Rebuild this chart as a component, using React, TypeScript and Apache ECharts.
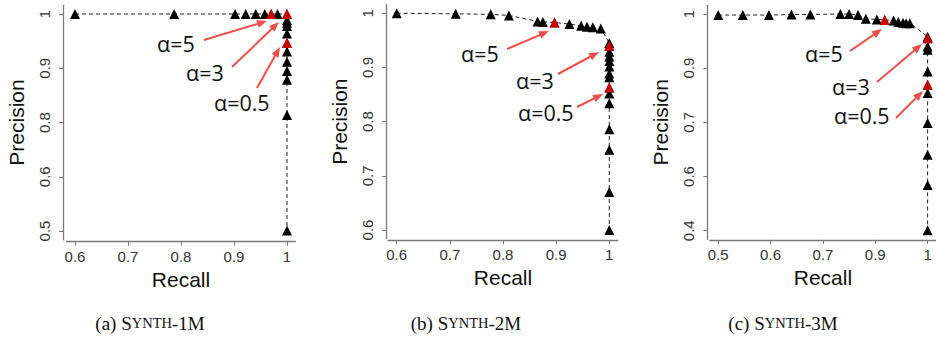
import React, { useEffect, useRef } from "react";
import * as echarts from "echarts";

// ---------- data ----------
// (a) SYNTH-1M
const xTickLabelsA = ["0.6", "0.7", "0.8", "0.9", "1"];
const yTickLabelsA = ["0.5", "0.6", "0.8", "0.9", "1"];
const recallA = [0.6, 0.787, 0.902, 0.922, 0.941, 0.958, 0.97, 0.982, 1, 1, 1, 1, 1, 1, 1, 1, 1, 1, 1, 1];
const precisionA = [1, 1, 1, 1, 1, 1, 1, 1, 1, 0.989, 0.984, 0.978, 0.964, 0.947, 0.931, 0.912, 0.895, 0.879, 0.814, 0.501];
const alphaRecallA = [0.97, 1, 1];
const alphaPrecisionA = [1, 1, 0.947];

// (b) SYNTH-2M
const xTickLabelsB = ["0.6", "0.7", "0.8", "0.9", "1"];
const yTickLabelsB = ["0.6", "0.7", "0.8", "0.9", "1"];
const recallB = [0.6, 0.711, 0.777, 0.811, 0.865, 0.875, 0.897, 0.925, 0.947, 0.958, 0.969, 0.984, 1, 1, 1, 1, 1, 1, 1, 1, 1, 1, 1, 1, 1, 1, 1];
const precisionB = [1, 0.999, 0.998, 0.996, 0.985, 0.984, 0.983, 0.98, 0.977, 0.975, 0.974, 0.972, 0.945, 0.94, 0.929, 0.92, 0.912, 0.902, 0.889, 0.882, 0.863, 0.852, 0.834, 0.786, 0.748, 0.67, 0.6];
const alphaRecallB = [0.897, 1, 1];
const alphaPrecisionB = [0.983, 0.94, 0.863];

// (c) SYNTH-3M
const xTickLabelsC = ["0.5", "0.6", "0.7", "0.9", "1"];
const yTickLabelsC = ["0.4", "0.6", "0.7", "0.9", "1"];
const recallC = [0.5, 0.547, 0.597, 0.64, 0.676, 0.767, 0.8, 0.834, 0.864, 0.903, 0.918, 0.935, 0.944, 0.953, 0.959, 0.966, 1, 1, 1, 1, 1, 1, 1, 1, 1, 1, 1];
const precisionC = [0.998, 0.998, 0.998, 0.999, 0.999, 1, 1, 0.998, 0.991, 0.99, 0.989, 0.988, 0.985, 0.984, 0.983, 0.983, 0.958, 0.955, 0.94, 0.934, 0.888, 0.839, 0.808, 0.699, 0.64, 0.569, 0.402];
const alphaRecallC = [0.918, 1, 1];
const alphaPrecisionC = [0.989, 0.955, 0.839];

const alphaLabels = ["α=5", "α=3", "α=0.5"];
const captionLetters = ["(a)", "(b)", "(c)"];
const captionSizes = ["1M", "2M", "3M"];

// ---------- helpers ----------
// tick labels are evenly spaced on the axis; map values piecewise-linearly
function toPos(v: number, ticks: number[]): number {
  for (let i = 0; i < ticks.length - 1; i++) {
    const a = ticks[i];
    const b = ticks[i + 1];
    if (v <= b || i === ticks.length - 2) return i + (v - a) / (b - a);
  }
  return 0;
}

const panels = [
  { xl: xTickLabelsA, yl: yTickLabelsA, r: recallA, p: precisionA, ar: alphaRecallA, ap: alphaPrecisionA },
  { xl: xTickLabelsB, yl: yTickLabelsB, r: recallB, p: precisionB, ar: alphaRecallB, ap: alphaPrecisionB },
  { xl: xTickLabelsC, yl: yTickLabelsC, r: recallC, p: precisionC, ar: alphaRecallC, ap: alphaPrecisionC },
];

const layouts = [
  { left: 66.5, top: 5.3, width: 229, height: 234.4, yOff: 3.5, xOff: 2, cap: 150 },
  { left: 388.2, top: 4.6, width: 229.6, height: 234.1, yOff: 2, xOff: 1.5, cap: 466 },
  { left: 709.8, top: 5.3, width: 230.4, height: 234.1, yOff: 2.5, xOff: 0.5, cap: 783 },
];

// annotation placement (pixels)
const labelPos = [
  [[157, 43], [186, 72], [214, 102]],
  [[461, 53], [516, 80], [518, 112]],
  [[805, 53], [832, 86], [834, 115]],
];
const arrowPos = [
  [[204, 40, 267, 21], [232, 67, 279, 22], [257, 88, 280, 47]],
  [[507, 49, 549, 31], [558, 74, 599, 52], [577, 107, 603, 94]],
  [[850, 51, 882, 29], [877, 82, 922, 44], [896, 118, 923, 91]],
];

const AXIS_COLOR = "#7a7a7a";
const SANS = "Liberation Sans";
const ARROW = "#ef4f47";

function arrowEls(x1: number, y1: number, x2: number, y2: number) {
  const ang = Math.atan2(y2 - y1, x2 - x1);
  const L = 10;
  const W = 4;
  const c = Math.cos(ang);
  const s = Math.sin(ang);
  const bx = x2 - L * c;
  const by = y2 - L * s;
  return [
    { type: "line", shape: { x1, y1, x2: bx + c, y2: by + s }, style: { stroke: ARROW, lineWidth: 2 }, silent: true },
    {
      type: "polygon",
      shape: { points: [[x2, y2], [bx + W * s, by - W * c], [bx - W * s, by + W * c]] },
      style: { fill: ARROW },
      silent: true,
    },
  ];
}

export default function App() {
  const ref = useRef<HTMLDivElement>(null);
  useEffect(() => {
    if (!ref.current) return;
    const chart = echarts.init(ref.current, null, { renderer: "svg" });
    const grid: any[] = [];
    const xAxis: any[] = [];
    const yAxis: any[] = [];
    const series: any[] = [];
    const graphic: any[] = [];

    panels.forEach((pn, i) => {
      const lay = layouts[i];
      const xt = pn.xl.map(Number);
      const yt = pn.yl.map(Number);
      const n = xt.length - 1;
      const ext = n * 0.04;
      const idx = pn.xl.map((_, k) => k);
      grid.push({ left: lay.left, top: lay.top, width: lay.width, height: lay.height, containLabel: false });
      xAxis.push({
        gridIndex: i,
        type: "value",
        min: -ext,
        max: n + ext,
        offset: lay.xOff,
        splitLine: { show: false },
        axisLine: { show: true, onZero: false, lineStyle: { color: AXIS_COLOR, width: 1.3 } },
        axisTick: { show: true, length: 4, customValues: idx, lineStyle: { color: AXIS_COLOR, width: 1 } },
        axisLabel: {
          customValues: idx,
          formatter: (v: number) => pn.xl[Math.round(v)],
          margin: 7,
          fontSize: 15,
          fontFamily: SANS,
          color: "#333",
        },
        name: "Recall",
        nameLocation: "middle",
        nameGap: 25,
        nameTextStyle: { fontSize: 21, fontFamily: SANS, color: "#111" },
      });
      yAxis.push({
        gridIndex: i,
        type: "value",
        min: -ext,
        max: n + ext,
        offset: lay.yOff,
        splitLine: { show: false },
        axisLine: { show: true, onZero: false, lineStyle: { color: AXIS_COLOR, width: 1.3 } },
        axisTick: { show: true, length: 4, customValues: idx, lineStyle: { color: AXIS_COLOR, width: 1 } },
        axisLabel: {
          customValues: idx,
          formatter: (v: number) => pn.yl[Math.round(v)],
          rotate: 90,
          margin: 11,
          fontSize: 15,
          fontFamily: SANS,
          color: "#333",
        },
        name: "Precision",
        nameLocation: "middle",
        nameGap: 36,
        nameTextStyle: { fontSize: 21, fontFamily: SANS, color: "#111" },
      });
      series.push({
        type: "line",
        xAxisIndex: i,
        yAxisIndex: i,
        data: pn.r.map((r, k) => [toPos(r, xt), toPos(pn.p[k], yt)]),
        symbol: "triangle",
        symbolSize: 10,
        showAllSymbol: true,
        clip: false,
        itemStyle: { color: "#000" },
        lineStyle: { color: "#222", width: 1, type: [4, 3] },
        z: 2,
      });
      series.push({
        type: "scatter",
        xAxisIndex: i,
        yAxisIndex: i,
        data: pn.ar.map((r, k) => [toPos(r, xt), toPos(pn.ap[k], yt)]),
        symbol: "triangle",
        symbolSize: 10,
        clip: false,
        itemStyle: { color: "#ff0000" },
        z: 3,
      });
      alphaLabels.forEach((t, k) => {
        const [lx, ly] = labelPos[i][k];
        graphic.push({
          type: "text",
          x: lx,
          y: ly,
          style: { text: t, font: `21.5px "Open Sans"`, fill: "#111", align: "left", verticalAlign: "middle" },
          silent: true,
        });
        const [x1, y1, x2, y2] = arrowPos[i][k];
        graphic.push(...arrowEls(x1, y1, x2, y2));
      });
      graphic.push({
        type: "text",
        x: lay.cap,
        y: 323,
        style: {
          text: `{n|${captionLetters[i]} S}{s|YNTH}{n|-${captionSizes[i]}}`,
          align: "center",
          verticalAlign: "middle",
          fill: "#111",
          rich: {
            n: { fontSize: 19, fontFamily: "Liberation Serif", fill: "#111" },
            s: { fontSize: 14.5, fontFamily: "Liberation Serif", fill: "#111" },
          },
        },
        silent: true,
      });
    });

    chart.setOption({
      animation: false,
      backgroundColor: "#fff",
      grid,
      xAxis,
      yAxis,
      series,
      graphic,
    });
    return () => chart.dispose();
  }, []);
  return (
    <div
      ref={ref}
      style={{ position: "absolute", left: 0, top: 0, width: 936, height: 345, background: "#fff" }}
    />
  );
}
